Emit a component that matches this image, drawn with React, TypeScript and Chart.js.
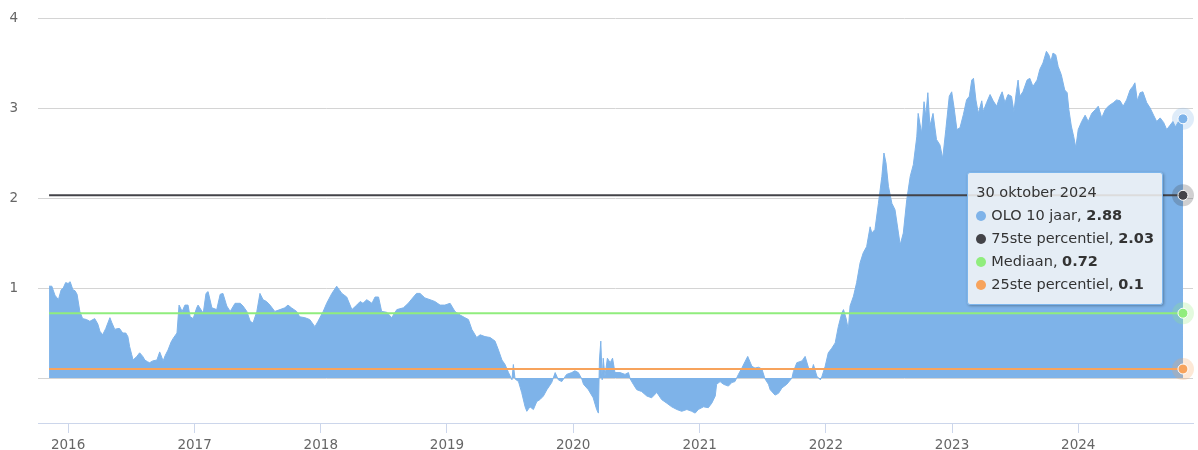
import React, { useEffect, useRef } from 'react';
import { Chart, registerables } from 'chart.js';

Chart.register(...registerables);

// ---------- data ----------
const oloDates: string[] = [
  '2015-11-07', '2015-11-15', '2015-11-24', '2015-12-04', '2015-12-12', '2015-12-18', '2015-12-25',
  '2016-01-01', '2016-01-07', '2016-01-15', '2016-01-21', '2016-01-27', '2016-02-04', '2016-02-12', '2016-02-23', '2016-03-04', '2016-03-18', '2016-03-27', '2016-04-02', '2016-04-10', '2016-04-19', '2016-05-01', '2016-05-06', '2016-05-15', '2016-05-24', '2016-05-29', '2016-06-07', '2016-06-16', '2016-06-22', '2016-06-27', '2016-07-03', '2016-07-07', '2016-07-18', '2016-07-26', '2016-08-04', '2016-08-10', '2016-08-18', '2016-08-24', '2016-09-02', '2016-09-14', '2016-09-22', '2016-10-02', '2016-10-08', '2016-10-16', '2016-10-25', '2016-10-31', '2016-11-11', '2016-11-17', '2016-11-26', '2016-12-04', '2016-12-13', '2016-12-19', '2016-12-28',
  '2017-01-07', '2017-01-11', '2017-01-26', '2017-02-03', '2017-02-09', '2017-02-20', '2017-03-06', '2017-03-16', '2017-03-24', '2017-04-04', '2017-04-14', '2017-04-28', '2017-05-13', '2017-05-21', '2017-06-01', '2017-06-11', '2017-06-19', '2017-06-30', '2017-07-09', '2017-07-18', '2017-07-28', '2017-08-07', '2017-08-21', '2017-09-05', '2017-09-19', '2017-09-28', '2017-10-08', '2017-10-23', '2017-11-01', '2017-11-16', '2017-11-30', '2017-12-15', '2017-12-24',
  '2018-01-08', '2018-01-18', '2018-02-02', '2018-02-16', '2018-03-03', '2018-03-17', '2018-04-01', '2018-04-15', '2018-04-25', '2018-05-03', '2018-05-14', '2018-05-29', '2018-06-07', '2018-06-17', '2018-06-26', '2018-07-11', '2018-07-25', '2018-08-09', '2018-08-28', '2018-09-11', '2018-09-26', '2018-10-05', '2018-10-15', '2018-10-29', '2018-11-13', '2018-11-27', '2018-12-12', '2018-12-26',
  '2019-01-10', '2019-01-24', '2019-02-08', '2019-02-22', '2019-03-04', '2019-03-14', '2019-03-28', '2019-04-07', '2019-04-21', '2019-05-06', '2019-05-20', '2019-05-30', '2019-06-09', '2019-06-18', '2019-06-28', '2019-07-08', '2019-07-12', '2019-07-17', '2019-07-27', '2019-08-05', '2019-08-15', '2019-08-20', '2019-08-29', '2019-09-08', '2019-09-18', '2019-09-27', '2019-10-07', '2019-10-17', '2019-10-31', '2019-11-10', '2019-11-19', '2019-11-29', '2019-12-13', '2019-12-28',
  '2020-01-06', '2020-01-16', '2020-01-26', '2020-01-31', '2020-02-14', '2020-02-28', '2020-03-09', '2020-03-14', '2020-03-17', '2020-03-21', '2020-03-25', '2020-03-28', '2020-04-02', '2020-04-09', '2020-04-17', '2020-04-24', '2020-05-01', '2020-05-16', '2020-05-30', '2020-06-09', '2020-06-14', '2020-06-23', '2020-07-03', '2020-07-17', '2020-08-01', '2020-08-15', '2020-08-30', '2020-09-13', '2020-09-28', '2020-10-12', '2020-10-27', '2020-11-10', '2020-11-25', '2020-12-09', '2020-12-19', '2020-12-28',
  '2021-01-12', '2021-01-26', '2021-02-05', '2021-02-15', '2021-02-19', '2021-03-01', '2021-03-11', '2021-03-25', '2021-04-04', '2021-04-13', '2021-04-23', '2021-05-03', '2021-05-12', '2021-05-20', '2021-06-01', '2021-06-10', '2021-06-20', '2021-06-30', '2021-07-09', '2021-07-19', '2021-07-24', '2021-08-07', '2021-08-17', '2021-08-27', '2021-09-10', '2021-09-25', '2021-09-29', '2021-10-09', '2021-10-24', '2021-11-02', '2021-11-12', '2021-11-22', '2021-11-26', '2021-12-06', '2021-12-16', '2021-12-21', '2021-12-30',
  '2022-01-08', '2022-01-18', '2022-01-28', '2022-02-06', '2022-02-16', '2022-02-21', '2022-02-28', '2022-03-07', '2022-03-12', '2022-03-22', '2022-03-31', '2022-04-10', '2022-04-19', '2022-04-29', '2022-05-09', '2022-05-14', '2022-05-23', '2022-06-02', '2022-06-12', '2022-06-18', '2022-06-24', '2022-07-01', '2022-07-11', '2022-07-20', '2022-07-30', '2022-08-04', '2022-08-13', '2022-08-23', '2022-09-02', '2022-09-11', '2022-09-21', '2022-09-25', '2022-10-05', '2022-10-12', '2022-10-17', '2022-10-23', '2022-10-29', '2022-11-07', '2022-11-17', '2022-11-27', '2022-12-05', '2022-12-14', '2022-12-24', '2022-12-31',
  '2023-01-07', '2023-01-15', '2023-01-24', '2023-02-03', '2023-02-12', '2023-02-20', '2023-02-27', '2023-03-04', '2023-03-11', '2023-03-18', '2023-03-28', '2023-04-01', '2023-04-11', '2023-04-21', '2023-04-30', '2023-05-10', '2023-05-20', '2023-05-26', '2023-06-03', '2023-06-12', '2023-06-22', '2023-06-29', '2023-07-06', '2023-07-11', '2023-07-16', '2023-07-25', '2023-08-06', '2023-08-14', '2023-08-23', '2023-09-04', '2023-09-12', '2023-09-21', '2023-10-01', '2023-10-08', '2023-10-14', '2023-10-20', '2023-10-28', '2023-11-04', '2023-11-13', '2023-11-23', '2023-11-30', '2023-12-05', '2023-12-12', '2023-12-19', '2023-12-25',
  '2024-01-01', '2024-01-11', '2024-01-21', '2024-01-30', '2024-02-09', '2024-02-19', '2024-02-28', '2024-03-09', '2024-03-19', '2024-03-28', '2024-04-12', '2024-04-21', '2024-05-01', '2024-05-10', '2024-05-20', '2024-05-30', '2024-06-07', '2024-06-13', '2024-06-20', '2024-06-28', '2024-07-06', '2024-07-17', '2024-07-27', '2024-08-06', '2024-08-15', '2024-08-25', '2024-09-04', '2024-09-13', '2024-09-23', '2024-10-01', '2024-10-08', '2024-10-17', '2024-10-27', '2024-10-30',
];

const oloValues: number[] = [
  1.02, 1.02, 0.92, 0.87, 0.98, 1.0, 1.06,
  1.05, 1.07, 0.98, 0.97, 0.93, 0.74, 0.66, 0.65, 0.63, 0.66, 0.6, 0.52, 0.48, 0.55, 0.67, 0.62, 0.54, 0.55, 0.55, 0.5, 0.5, 0.46, 0.35, 0.26, 0.2, 0.24, 0.28, 0.24, 0.2, 0.18, 0.17, 0.19, 0.2, 0.29, 0.19, 0.25, 0.31, 0.4, 0.44, 0.5, 0.81, 0.74, 0.81, 0.81, 0.68, 0.66,
  0.78, 0.81, 0.72, 0.94, 0.96, 0.78, 0.76, 0.93, 0.94, 0.8, 0.74, 0.83, 0.83, 0.8, 0.74, 0.63, 0.61, 0.74, 0.94, 0.87, 0.85, 0.81, 0.74, 0.76, 0.78, 0.81, 0.78, 0.74, 0.68, 0.67, 0.65, 0.57, 0.63,
  0.74, 0.83, 0.94, 1.02, 0.94, 0.9, 0.76, 0.81, 0.85, 0.83, 0.87, 0.83, 0.9, 0.9, 0.74, 0.73, 0.67, 0.76, 0.78, 0.83, 0.9, 0.94, 0.94, 0.89, 0.87, 0.85, 0.81, 0.81,
  0.83, 0.74, 0.7, 0.67, 0.65, 0.54, 0.45, 0.48, 0.46, 0.45, 0.41, 0.31, 0.2, 0.15, 0.06, -0.02, 0.15, -0.01, -0.04, -0.16, -0.32, -0.37, -0.32, -0.35, -0.26, -0.24, -0.2, -0.13, -0.05, 0.06, -0.02, -0.04, 0.04, 0.06,
  0.08, 0.06, -0.01, -0.07, -0.13, -0.22, -0.35, -0.39, 0.2, 0.41, -0.02, 0.22, 0.02, 0.22, 0.17, 0.22, 0.06, 0.06, 0.04, 0.06, -0.01, -0.07, -0.13, -0.15, -0.2, -0.22, -0.16, -0.24, -0.28, -0.32, -0.35, -0.37, -0.35, -0.37, -0.39, -0.35,
  -0.32, -0.33, -0.28, -0.2, -0.07, -0.04, -0.07, -0.09, -0.05, -0.04, 0.04, 0.11, 0.18, 0.24, 0.13, 0.11, 0.12, 0.1, -0.01, -0.07, -0.13, -0.19, -0.17, -0.11, -0.07, 0.0, 0.07, 0.17, 0.19, 0.24, 0.11, 0.09, 0.15, 0.02, -0.02, 0.02, 0.13,
  0.28, 0.33, 0.39, 0.57, 0.72, 0.76, 0.67, 0.54, 0.8, 0.91, 1.06, 1.28, 1.39, 1.46, 1.68, 1.61, 1.65, 1.94, 2.24, 2.5, 2.39, 2.13, 1.94, 1.87, 1.61, 1.48, 1.61, 1.98, 2.24, 2.37, 2.68, 2.94, 2.72, 3.07, 2.91, 3.17, 2.8, 2.94, 2.65, 2.59, 2.44, 2.76, 3.13, 3.18,
  3.0, 2.76, 2.78, 2.93, 3.09, 3.13, 3.31, 3.33, 3.09, 2.94, 3.08, 2.96, 3.06, 3.15, 3.08, 3.02, 3.13, 3.18, 3.06, 3.15, 3.13, 2.96, 3.18, 3.31, 3.13, 3.18, 3.31, 3.33, 3.24, 3.31, 3.43, 3.5, 3.63, 3.59, 3.52, 3.61, 3.59, 3.46, 3.37, 3.2, 3.17, 2.98, 2.8, 2.68, 2.56,
  2.76, 2.85, 2.92, 2.85, 2.94, 2.98, 3.02, 2.89, 2.98, 3.02, 3.06, 3.09, 3.08, 3.02, 3.09, 3.2, 3.24, 3.28, 3.08, 3.17, 3.18, 3.06, 3.0, 2.92, 2.85, 2.89, 2.84, 2.76, 2.81, 2.85, 2.79, 2.85, 2.89, 2.88,
];

const seriesNames: string[] = ['OLO 10 jaar', '75ste percentiel', 'Mediaan', '25ste percentiel'];
const seriesColors: string[] = ['#7eb3e9', '#434348', '#90ed7d', '#f7a35c'];
const percentileValues: number[] = [2.03, 0.72, 0.1];
const yearTicks: number[] = [2016, 2017, 2018, 2019, 2020, 2021, 2022, 2023, 2024];
const yTickValues: number[] = [-0.5, 0, 1, 2, 3, 4];
const xRange: string[] = ['2015-10-06', '2024-11-28'];
const monthNames: string[] = ['januari', 'februari', 'maart', 'april', 'mei', 'juni', 'juli', 'augustus', 'september', 'oktober', 'november', 'december'];

const ts = (d: string) => Date.parse(d + 'T00:00:00Z');
const fmtDate = (v: number) => {
  const d = new Date(v);
  return `${d.getUTCDate()} ${monthNames[d.getUTCMonth()]} ${d.getUTCFullYear()}`;
};

const FONT = '"DejaVu Sans", Verdana, sans-serif';

export default function App() {
  const canvasRef = useRef<HTMLCanvasElement | null>(null);
  const tipRef = useRef<HTMLDivElement | null>(null);

  useEffect(() => {
    document.body.style.margin = '0';
    const canvas = canvasRef.current;
    if (!canvas) return;

    const oloPoints = oloDates.map((d, i) => ({ x: ts(d), y: oloValues[i] }));
    const first = oloPoints[0].x;
    const last = oloPoints[oloPoints.length - 1].x;

    const haloPlugin = {
      id: 'endHalo',
      afterDatasetsDraw(chart: any) {
        const ctx = chart.ctx;
        chart.data.datasets.forEach((_ds: any, i: number) => {
          const meta = chart.getDatasetMeta(i);
          const el = meta.data[meta.data.length - 1];
          if (!el) return;
          ctx.save();
          ctx.globalAlpha = 0.25;
          ctx.fillStyle = seriesColors[i];
          ctx.beginPath();
          ctx.arc(el.x, el.y, 11, 0, Math.PI * 2);
          ctx.fill();
          ctx.globalAlpha = 1;
          ctx.fillStyle = seriesColors[i];
          ctx.strokeStyle = '#ffffff';
          ctx.lineWidth = 1;
          ctx.beginPath();
          ctx.arc(el.x, el.y, 5, 0, Math.PI * 2);
          ctx.fill();
          ctx.stroke();
          ctx.restore();
        });
      },
    };

    const external = ({ chart, tooltip }: any) => {
      const tip = tipRef.current;
      if (!tip) return;
      if (!tooltip || tooltip.opacity === 0 || !tooltip.dataPoints || !tooltip.dataPoints.length) {
        tip.style.display = 'none';
        return;
      }
      const pts = [...tooltip.dataPoints].sort((a: any, b: any) => a.datasetIndex - b.datasetIndex);
      tip.innerHTML = '';
      const head = document.createElement('div');
      head.textContent = (tooltip.title && tooltip.title[0]) || '';
      head.style.height = '23px';
      head.style.lineHeight = '23px';
      tip.appendChild(head);
      pts.forEach((p: any) => {
        const row = document.createElement('div');
        row.style.height = '23px';
        row.style.lineHeight = '23px';
        row.style.display = 'flex';
        row.style.alignItems = 'center';
        const dot = document.createElement('span');
        dot.style.display = 'inline-block';
        dot.style.width = '10px';
        dot.style.height = '10px';
        dot.style.borderRadius = '50%';
        dot.style.background = seriesColors[p.datasetIndex];
        dot.style.marginRight = '5px';
        row.appendChild(dot);
        const name = document.createElement('span');
        name.textContent = `${seriesNames[p.datasetIndex]}, `;
        name.style.whiteSpace = 'pre';
        row.appendChild(name);
        const val = document.createElement('b');
        val.textContent = String(p.parsed.y);
        row.appendChild(val);
        tip.appendChild(row);
      });
      tip.style.display = 'block';
      tip.style.right = `${chart.width - tooltip.caretX + 20}px`;
      tip.style.top = `${tooltip.caretY - 77}px`;
    };

    const chart = new Chart(canvas, {
      type: 'line',
      data: {
        datasets: [
          {
            label: seriesNames[0],
            data: oloPoints,
            borderColor: seriesColors[0],
            backgroundColor: seriesColors[0],
            borderWidth: 1,
            fill: 'origin',
            pointRadius: 0,
            pointHoverRadius: 0,
            tension: 0,
            order: 4,
          },
          ...percentileValues.map((v, k) => ({
            label: seriesNames[k + 1],
            data: [
              { x: first, y: v },
              { x: last, y: v },
            ],
            borderColor: seriesColors[k + 1],
            backgroundColor: seriesColors[k + 1],
            borderWidth: 2,
            fill: false,
            pointRadius: 0,
            pointHoverRadius: 0,
            tension: 0,
            order: 3 - k,
          })),
        ],
      },
      options: {
        responsive: false,
        animation: false,
        events: [],
        layout: { padding: { top: 18, right: 5, left: 0, bottom: 0 } },
        scales: {
          x: {
            type: 'linear',
            min: ts(xRange[0]),
            max: ts(xRange[1]),
            afterBuildTicks: (scale: any) => {
              scale.ticks = yearTicks.map((y) => ({ value: Date.UTC(y, 0, 1) }));
            },
            afterFit: (scale: any) => {
              scale.height = 27;
              scale.paddingLeft = 0;
              scale.paddingRight = 0;
            },
            ticks: {
              autoSkip: false,
              maxRotation: 0,
              padding: 4,
              color: '#666666',
              font: { family: FONT, size: 13.5 },
              callback: (v: any) => String(new Date(Number(v)).getUTCFullYear()),
            },
            grid: {
              drawOnChartArea: false,
              drawTicks: true,
              tickLength: 10,
              color: '#ccd6eb',
            },
            border: { display: true, color: '#ccd6eb', width: 1 },
          },
          y: {
            type: 'linear',
            min: -0.5,
            max: 4,
            afterBuildTicks: (scale: any) => {
              scale.ticks = yTickValues.map((v) => ({ value: v }));
            },
            afterFit: (scale: any) => {
              scale.width = 38;
              scale.paddingTop = 0;
              scale.paddingBottom = 0;
            },
            ticks: {
              padding: 20,
              color: '#666666',
              font: { family: FONT, size: 13.5 },
              callback: (v: any) => (Number(v) >= 1 ? String(v) : ''),
            },
            grid: {
              drawTicks: false,
              color: (ctx: any) => (ctx.tick && ctx.tick.value === -0.5 ? 'rgba(0,0,0,0)' : '#d4d4d4'),
              lineWidth: 1,
            },
            border: { display: false },
          },
        },
        plugins: {
          legend: { display: false },
          tooltip: {
            enabled: false,
            external,
            callbacks: {
              title: (items: any[]) => (items.length ? fmtDate(items[0].parsed.x) : ''),
            },
          },
        },
      },
      plugins: [haloPlugin],
    } as any);

    const active = chart.data.datasets.map((ds: any, i: number) => ({ datasetIndex: i, index: ds.data.length - 1 }));
    chart.tooltip?.setActiveElements(active as any, { x: 0, y: 0 });

    return () => {
      chart.destroy();
    };
  }, []);

  return (
    <div style={{ position: 'relative', width: 1198, height: 450 }}>
      <canvas ref={canvasRef} width={1198} height={450} style={{ display: 'block' }} />
      <div
        ref={tipRef}
        style={{
          display: 'none',
          position: 'absolute',
          boxSizing: 'border-box',
          padding: '8px 8px 8px 8px',
          background: 'rgba(247,247,247,0.85)',
          border: '1px solid #7cb5ec',
          borderRadius: 3,
          boxShadow: '1px 1px 3px rgba(0,0,0,0.3)',
          fontFamily: FONT,
          fontSize: 14.5,
          color: '#333333',
          whiteSpace: 'nowrap',
          pointerEvents: 'none',
        }}
      />
    </div>
  );
}
